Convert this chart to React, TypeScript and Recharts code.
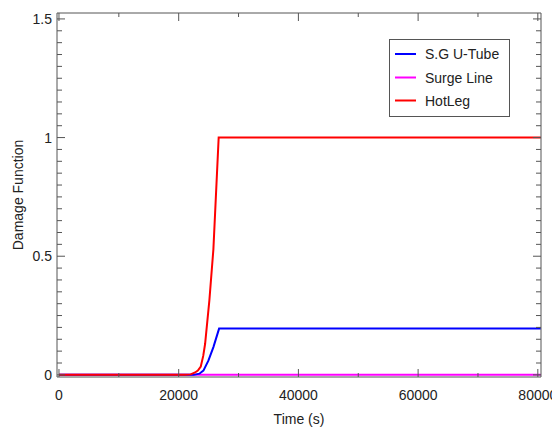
import { LineChart, Line, XAxis, YAxis, Legend } from "recharts";

// time (s) / damage function
const sgTime = [0, 22500, 23460, 24130, 24960, 25800, 26750, 80500];
const sgDamage = [0, 0, 0.005, 0.018, 0.06, 0.117, 0.195, 0.195];
const surgeTime = [0, 80500];
const surgeDamage = [0, 0];
const hotTime = [0, 21000, 22000, 22740, 23200, 23690, 24100, 24410, 25130, 25800, 26680, 80500];
const hotDamage = [0, 0, 0.002, 0.01, 0.018, 0.035, 0.08, 0.13, 0.315, 0.53, 1, 1];

const xTicks = [0, 10000, 20000, 30000, 40000, 50000, 60000, 70000, 80000];
const yMajor = [0, 0.5, 1, 1.5];
const yTicks = Array.from({ length: 31 }, (_, i) => i * 0.05);

const X_DOMAIN: [number, number] = [-330, 80530];
const Y_DOMAIN: [number, number] = [-0.009, 1.525];

const AXIS = "#555";
const INK = "#222";
const FONT = '"Liberation Sans", Arial, sans-serif';

const series = [
  { name: "S.G U-Tube", color: "#0000ff" },
  { name: "Surge Line", color: "#ff00ff" },
  { name: "HotLeg", color: "#ff0000" },
];

const toPoints = (t: number[], v: number[]) => t.map((x, i) => ({ t: x, v: v[i] }));

const isMajorX = (v: number) => v % 20000 === 0;
const isMajorY = (v: number) => yMajor.some((m) => Math.abs(m - v) < 1e-6);

function BottomTick({ x, y, payload }: any) {
  const major = isMajorX(payload.value);
  return (
    <g>
      <line x1={x} x2={x} y1={y} y2={y - (major ? 8 : 4)} stroke={AXIS} />
      {major && (
        <text x={x} y={y + 23} textAnchor="middle" fontSize={14} fill={INK} fontFamily={FONT}>
          {payload.value}
        </text>
      )}
    </g>
  );
}

function TopTick({ x, y, payload }: any) {
  const major = isMajorX(payload.value);
  return <line x1={x} x2={x} y1={y} y2={y + (major ? 8 : 4)} stroke={AXIS} />;
}

function LeftTick({ x, y, payload }: any) {
  const major = isMajorY(payload.value);
  return (
    <g>
      <line x1={x} x2={x + (major ? 8 : 5)} y1={y} y2={y} stroke={AXIS} />
      {major && (
        <text x={x - 5} y={y + 5} textAnchor="end" fontSize={14} fill={INK} fontFamily={FONT}>
          {String(Math.round(payload.value * 10) / 10)}
        </text>
      )}
    </g>
  );
}

function RightTick({ x, y, payload }: any) {
  const major = isMajorY(payload.value);
  return <line x1={x} x2={x - (major ? 8 : 5)} y1={y} y2={y} stroke={AXIS} />;
}

function LegendBox() {
  const rows = [15, 38.5, 61.5];
  return (
    <svg width={121} height={78} style={{ display: "block" }}>
      <rect x={0.5} y={0.5} width={120} height={77} fill="#fff" stroke={AXIS} />
      {series.map((s, i) => (
        <g key={s.name}>
          <line x1={6} x2={27} y1={rows[i]} y2={rows[i]} stroke={s.color} strokeWidth={2} />
          <text x={36} y={rows[i] + 5} fontSize={14} fill={INK} fontFamily={FONT}>
            {s.name}
          </text>
        </g>
      ))}
    </svg>
  );
}

export default function App() {
  return (
    <LineChart
      width={552}
      height={419}
      margin={{ top: 4, right: 18, bottom: 0, left: 0 }}
      style={{ fontFamily: FONT }}
    >
      <XAxis
        xAxisId="b"
        dataKey="t"
        type="number"
        domain={X_DOMAIN}
        allowDataOverflow
        ticks={xTicks}
        interval={0}
        height={50}
        tickSize={0}
        tickMargin={0}
        tickLine={false}
        axisLine={{ stroke: AXIS }}
        tick={<BottomTick />}
        label={{ value: "Time (s)", position: "insideBottom", offset: 3, style: { fontSize: 14, fill: INK } }}
      />
      <XAxis
        xAxisId="t"
        orientation="top"
        dataKey="t"
        type="number"
        domain={X_DOMAIN}
        allowDataOverflow
        ticks={xTicks}
        interval={0}
        height={1}
        tickSize={0}
        tickMargin={0}
        tickLine={false}
        axisLine={{ stroke: AXIS }}
        tick={<TopTick />}
      />
      <YAxis
        yAxisId="l"
        type="number"
        domain={Y_DOMAIN}
        allowDataOverflow
        ticks={yTicks}
        interval={0}
        width={49}
        tickSize={0}
        tickMargin={0}
        tickLine={false}
        axisLine={{ stroke: AXIS }}
        tick={<LeftTick />}
        label={{
          value: "Damage Function",
          angle: -90,
          position: "insideLeft",
          offset: 10,
          style: { fontSize: 14, fill: INK, textAnchor: "middle" },
        }}
      />
      <YAxis
        yAxisId="r"
        orientation="right"
        type="number"
        domain={Y_DOMAIN}
        allowDataOverflow
        ticks={yTicks}
        interval={0}
        width={1}
        tickSize={0}
        tickMargin={0}
        tickLine={false}
        axisLine={{ stroke: AXIS }}
        tick={<RightTick />}
      />
      <Legend
        layout="vertical"
        align="center"
        verticalAlign="middle"
        content={<LegendBox />}
        wrapperStyle={{ left: 381, top: 31, width: 121, height: 78 }}
      />
      <Line
        xAxisId="b"
        yAxisId="l"
        data={toPoints(surgeTime, surgeDamage)}
        dataKey="v"
        name={series[1].name}
        type="linear"
        stroke={series[1].color}
        strokeWidth={2}
        dot={false}
        isAnimationActive={false}
      />
      <Line
        xAxisId="b"
        yAxisId="l"
        data={toPoints(sgTime, sgDamage)}
        dataKey="v"
        name={series[0].name}
        type="linear"
        stroke={series[0].color}
        strokeWidth={2}
        dot={false}
        isAnimationActive={false}
      />
      <Line
        xAxisId="b"
        yAxisId="l"
        data={toPoints(hotTime, hotDamage)}
        dataKey="v"
        name={series[2].name}
        type="linear"
        stroke={series[2].color}
        strokeWidth={2}
        dot={false}
        isAnimationActive={false}
      />
    </LineChart>
  );
}
